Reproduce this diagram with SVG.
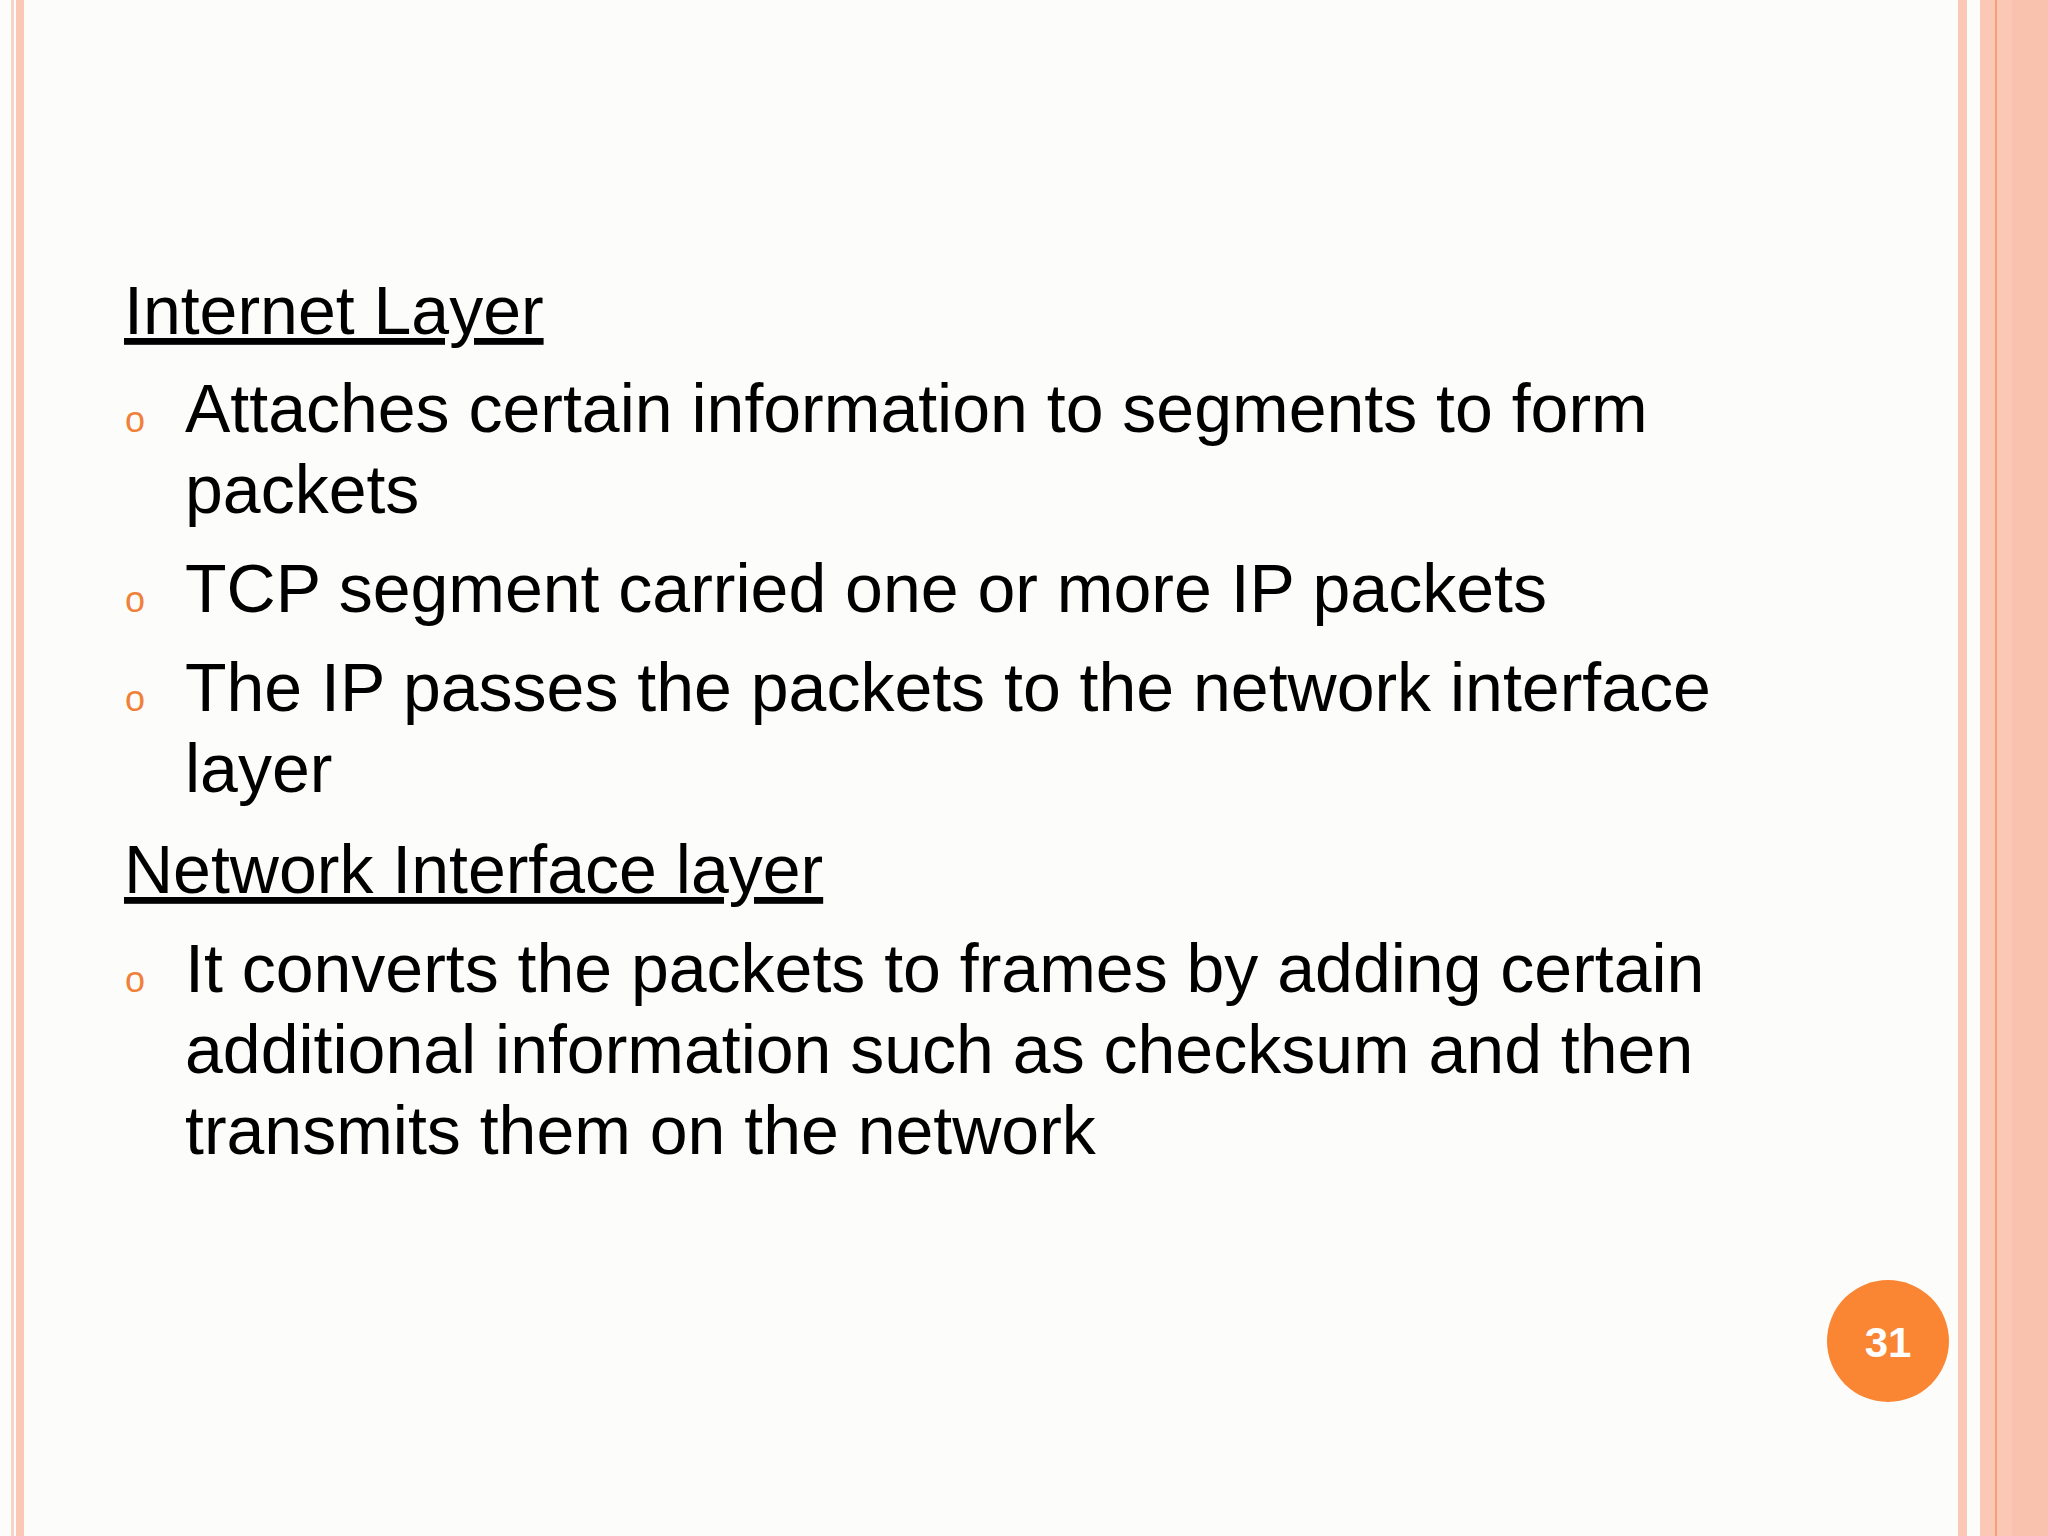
<svg xmlns="http://www.w3.org/2000/svg" width="2048" height="1536" viewBox="0 0 2048 1536">
<style>
.t{font-family:"Liberation Sans",Arial,sans-serif;font-size:68px;fill:#000}
.h{text-decoration:underline}
.b{font-family:"Liberation Sans",Arial,sans-serif;font-size:36px;fill:#F0813A}
</style>
<rect width="2048" height="1536" fill="#FCFDFB"/>
<g id="borders">
<rect x="11" y="0" width="3" height="1536" fill="#F8D3C6"/>
<rect x="16" y="0" width="8" height="1536" fill="#FBC8B5"/>
<rect x="1958" y="0" width="9" height="1536" fill="#FBC8B5"/>
<rect x="1980" y="0" width="68" height="1536" fill="#FBC8B5"/>
<rect x="1995" y="0" width="2" height="1536" fill="#F7A078"/>
<rect x="2012" y="0" width="36" height="1536" fill="#F9C2AE"/>
</g>
<g id="text">
<text class="t h" x="124" y="334">Internet Layer</text>
<text class="b" x="125" y="432">o</text>
<text class="t" x="185" y="432">Attaches certain information to segments to form</text>
<text class="t" x="185" y="513">packets</text>
<text class="b" x="125" y="612">o</text>
<text class="t" x="185" y="612">TCP segment carried one or more IP packets</text>
<text class="b" x="125" y="711">o</text>
<text class="t" x="185" y="711">The IP passes the packets to the network interface</text>
<text class="t" x="185" y="792">layer</text>
<text class="t h" x="124" y="893">Network Interface layer</text>
<text class="b" x="125" y="992">o</text>
<text class="t" x="185" y="992">It converts the packets to frames by adding certain</text>
<text class="t" x="185" y="1073">additional information such as checksum and then</text>
<text class="t" x="185" y="1154">transmits them on the network</text>
</g>
<g id="page">
<circle cx="1888" cy="1341" r="61" fill="#FA8533"/>
<text x="1888" y="1357" text-anchor="middle" font-family="Liberation Sans,Arial,sans-serif" font-weight="bold" font-size="42" fill="#fff">31</text>
</g>
</svg>
